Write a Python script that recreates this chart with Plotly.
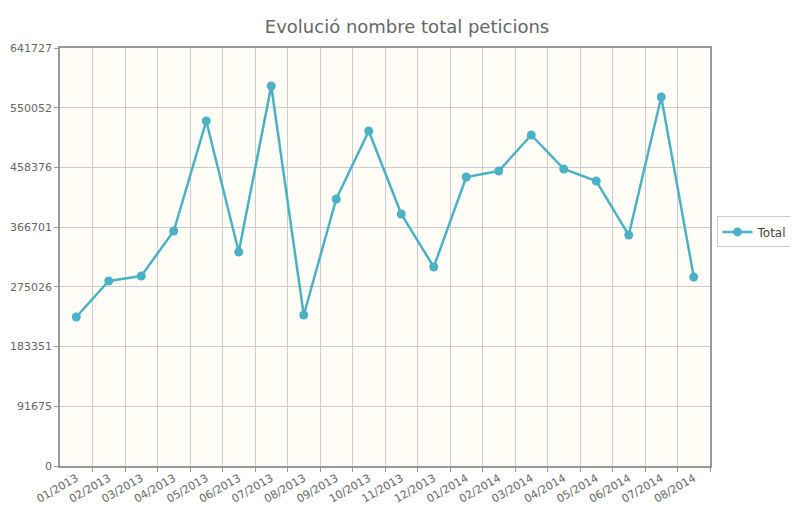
import plotly.graph_objects as go

# Monthly totals
months = ['01/2013', '02/2013', '03/2013', '04/2013', '05/2013', '06/2013', '07/2013',
          '08/2013', '09/2013', '10/2013', '11/2013', '12/2013', '01/2014', '02/2014',
          '03/2014', '04/2014', '05/2014', '06/2014', '07/2014', '08/2014']
totals = [228700, 284000, 291700, 360800, 529600, 328500, 583400, 231800, 409900, 514300,
          386900, 305500, 443700, 452900, 508200, 456000, 437500, 354600, 566500, 290200]
y_ticks = [0, 91675, 183351, 275026, 366701, 458376, 550052, 641727]

xs = list(range(len(months)))

fig = go.Figure()
fig.add_trace(go.Scatter(x=xs, y=totals, mode='lines+markers', name='Total',
                         line=dict(color='#4bb2c5', width=2.5),
                         marker=dict(color='#4bb2c5', size=9)))

fig.update_layout(
    title=dict(text='Evolució nombre total peticions', x=0.5, y=0.975,
               font=dict(family='DejaVu Sans', size=18, color='#666666')),
    width=798, height=515,
    paper_bgcolor='white', plot_bgcolor='#fffdf6',
    margin=dict(l=52, r=76, t=40, b=57),
    font=dict(family='DejaVu Sans', size=11, color='#666666'),
    showlegend=True,
    legend=dict(x=1.01, y=0.56, yanchor='middle', bordercolor='#cccccc', borderwidth=1,
                font=dict(size=12, color='#444444')),
    xaxis=dict(tickmode='array', tickvals=xs, ticktext=months, tickangle=-30,
               range=[-0.5, len(months) - 0.5], showgrid=False, zeroline=False,
               automargin=False,
               showline=True, linecolor='#999999', mirror=True, linewidth=1.5,
               minor=dict(tickmode='array', tickvals=[i + 0.5 for i in xs],
                          showgrid=True, gridcolor='#cccccc', ticks='outside',
                          ticklen=4, tickcolor='#999999')),
    yaxis=dict(tickmode='array', tickvals=y_ticks, ticktext=[str(v) for v in y_ticks],
               range=[0, 641727], showgrid=True, gridcolor='#cccccc', zeroline=False,
               automargin=False,
               showline=True, linecolor='#999999', mirror=True, linewidth=1.5,
               ticks='outside', ticklen=4, tickcolor='#999999'),
)

fig.write_html('out.html')
